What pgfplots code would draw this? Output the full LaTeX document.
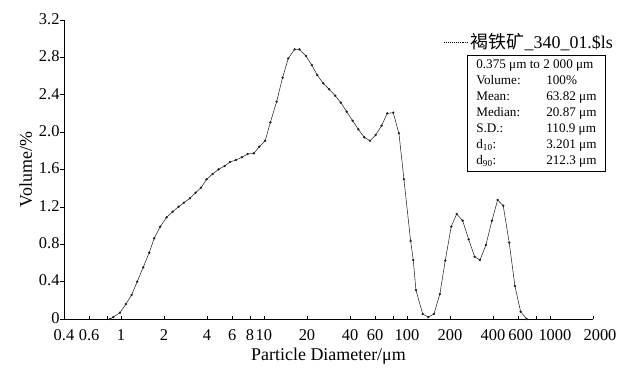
\documentclass[border=0pt]{standalone}
\usepackage{pgfplots}
\pgfplotsset{compat=1.18}
\usepackage{fontspec}
\setmainfont{Liberation Serif}
\newfontfamily\cjk{Noto Sans CJK SC}
\usetikzlibrary{calc}

\pgfplotstableread{
x y
0.84 0.0
0.884 0.02
0.984 0.067
1.084 0.16
1.188 0.257
1.30 0.40
1.432 0.553
1.577 0.71
1.71 0.864
1.883 0.988
2.087 1.088
2.30 1.148
2.532 1.202
2.758 1.245
3.04 1.292
3.33 1.352
3.63 1.405
3.97 1.495
4.38 1.552
4.82 1.602
5.31 1.637
5.78 1.680
6.37 1.702
7.02 1.731
7.69 1.766
8.51 1.773
9.27 1.844
10.2 1.908
11.1 2.105
12.27 2.326
13.5 2.582
14.8 2.79
16.4 2.886
17.7 2.886
19.7 2.815
21.6 2.718
23.6 2.611
26.0 2.522
28.6 2.458
31.5 2.39
34.5 2.315
37.9 2.219
41.7 2.122
45.7 2.03
50.3 1.945
55.1 1.908
60.4 1.969
66.5 2.069
72.8 2.201
80.2 2.208
87.9 1.987
95.3 1.495
106.1 0.835
110.7 0.631
115.6 0.31
128.8 0.054
141 0.02
154.5 0.054
170 0.268
185.3 0.624
204 0.988
222.7 1.124
245.3 1.052
270 0.853
297.3 0.667
323.8 0.631
356.6 0.792
392.9 1.052
430.7 1.274
471.3 1.213
519 0.817
569 0.353
623.7 0.078
687 0.0
}\psddata

\begin{document}
\begin{tikzpicture}
\begin{axis}[name=ax, scale only axis, width=529bp, height=299bp,
  xmode=log, xmin=0.4, xmax=2000, ymin=0, ymax=3.2,
  axis x line=bottom, axis y line=left,
  axis line style={-, line width=0.6pt},
  xtick={0.4,0.6,0.8,1,2,4,6,8,10,20,40,60,80,100,200,400,600,800,1000,2000},
  xticklabels={0.4,0.6,,1,2,4,6,8,10,20,40,60,,100,200,400\hspace{5bp},\hspace{5bp}600,,\hspace{10bp}1000,\hspace{14bp}2000},
  xminorticks=false,
  ytick={0,0.4,0.8,1.2,1.6,2.0,2.4,2.8,3.2},
  yticklabels={0,0.4,0.8,1.2,1.6,2.0,2.4,2.8,3.2},
  tick align=inside, major tick length=3.5bp,
  ytick style={xshift=-3.5bp},
  tick style={line width=0.6pt, black},
  /pgf/number format/assume math mode=true,
  ticklabel style={font=\fontsize{16.5}{16.5}\selectfont},
  xticklabel style={yshift=-7bp},
  yticklabel style={xshift=-1bp, yshift=1bp},
  xlabel={Particle Diameter/μm},
  ylabel={Volume/\%},
  xlabel style={yshift=-1bp},
  label style={font=\fontsize{18}{18}\selectfont},
  legend style={draw=none, fill=none, at={(0.718,0.926)}, anchor=west,
    font=\fontsize{18}{20}\selectfont, inner sep=0pt},
  legend cell align=left,
  legend image code/.code={\draw[black, densely dotted, line width=0.9pt] (0bp,0bp) -- (24bp,0bp);},
  clip=false,
]
\addplot[black!85, line width=0.55pt, mark=*, mark size=0.9pt, mark options={fill=black}] table[x=x, y=y] {\psddata};
\addlegendentry{{\cjk 褐铁矿}\_340\_01.\$ls}
\node[draw, line width=0.5pt, anchor=north west, inner xsep=9bp, inner ysep=4.5bp,
  font=\fontsize{13.2}{16}\selectfont, align=left] at (rel axis cs:0.762,0.883)
  {0.375 μm to 2 000 μm\\
   \makebox[70bp][l]{Volume:}100\%\\
   \makebox[70bp][l]{Mean:}63.82 μm\\
   \makebox[70bp][l]{Median:}20.87 μm\\
   \makebox[70bp][l]{S.D.:}110.9 μm\\
   \makebox[70bp][l]{d\textsubscript{10}:}3.201 μm\\
   \makebox[70bp][l]{d\textsubscript{90}:}212.3 μm};
\end{axis}
\pgfresetboundingbox
\path[use as bounding box] ($(ax.south west)+(-64bp,-51bp)$) rectangle ($(ax.north east)+(35bp,20bp)$);
\end{tikzpicture}
\end{document}
